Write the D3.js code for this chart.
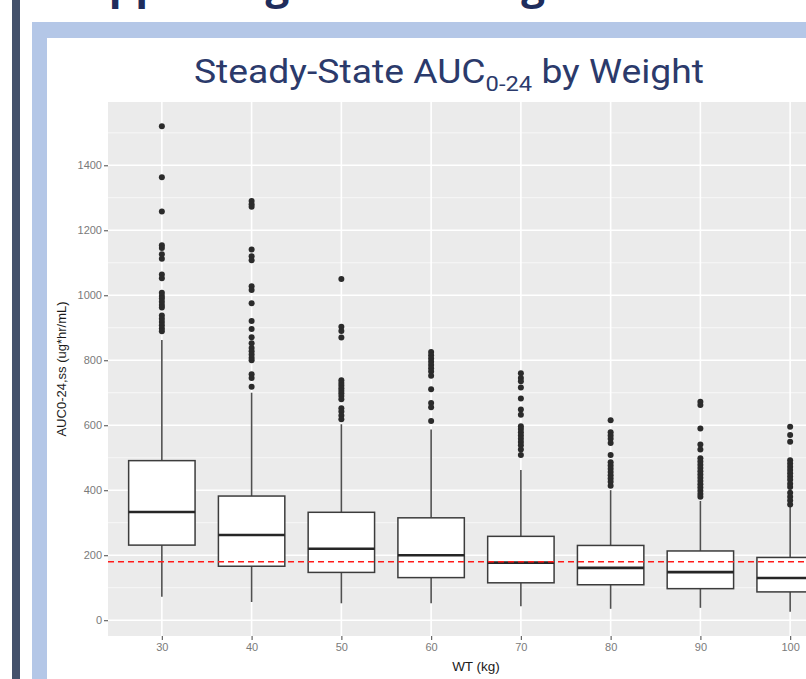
<!DOCTYPE html>
<html>
<head>
<meta charset="utf-8">
<script src="https://cdn.jsdelivr.net/npm/d3@7"></script>
<style>
  html, body { margin: 0; padding: 0; background: #fff; overflow: hidden; }
  svg { display: block; }
</style>
</head>
<body>
<svg id="chart" width="806" height="679"></svg>
<script>
// Boxplot summaries, one entry per weight group.
var weights = ["30", "40", "50", "60", "70", "80", "90", "100"];
var q1 = [231, 166, 147, 131, 115, 109, 97, 87];
var medians = [333, 262, 220, 200, 177, 161, 148, 130];
var q3 = [491, 382, 332, 315, 258, 230, 213, 193];
var whiskerLow = [72, 56, 52, 52, 43, 35, 38, 26];
var whiskerHigh = [862, 700, 603, 587, 462, 400, 367, 349];
var outliers = [
  [1520, 1363, 1258, 1154, 1145, 1126, 1112, 1064, 1052, 1008, 998, 990, 980, 970, 962, 938, 928, 918, 908, 898, 889],
  [1290, 1280, 1272, 1141, 1120, 1108, 1028, 1016, 975, 921, 896, 871, 852, 838, 828, 818, 808, 800, 757, 745, 718],
  [1050, 903, 890, 870, 738, 730, 722, 714, 706, 698, 690, 680, 652, 642, 630, 618],
  [825, 815, 805, 795, 785, 775, 765, 752, 711, 668, 655, 613],
  [760, 745, 735, 716, 682, 648, 632, 597, 588, 578, 568, 558, 548, 538, 525, 508],
  [615, 578, 568, 558, 545, 508, 486, 476, 466, 456, 446, 436, 426, 414],
  [672, 662, 590, 541, 525, 498, 488, 478, 468, 458, 448, 438, 428, 418, 408, 398, 388, 380],
  [595, 570, 549, 492, 482, 472, 462, 452, 442, 432, 420, 410, 392, 380, 368, 356]
];
var yTicks = [0, 200, 400, 600, 800, 1000, 1200, 1400];
var yMinor = [100, 300, 500, 700, 900, 1100, 1300, 1500];
var refLine = 180;

var svg = d3.select("#chart");

// slide decoration: dark side rule, light blue frame, cut-off heading
svg.append("rect").attr("x", 12).attr("y", 0).attr("width", 8).attr("height", 679).attr("fill", "#44516b");
svg.append("rect").attr("x", 32).attr("y", 22).attr("width", 780).attr("height", 670).attr("fill", "#b4c7e7");
svg.append("rect").attr("x", 47).attr("y", 38).attr("width", 770).attr("height", 650).attr("fill", "#fff");
svg.append("text")
    .attr("x", 58).attr("y", -1)
    .attr("fill", "#1f2d5c")
    .style("font", "bold 42px 'Open Sans', sans-serif")
    .text("Supporting Dose Changes");

// chart title with subscript
var title = svg.append("text")
    .attr("transform", "translate(449,83) scale(1.13,1)")
    .attr("text-anchor", "middle")
    .attr("fill", "#2b3a6b")
    .style("font-family", "Roboto, sans-serif")
    .style("font-size", "33px");
title.append("tspan").text("Steady-State AUC");
title.append("tspan").attr("dy", 8).style("font-size", "21px").text("0-24");
title.append("tspan").attr("dy", -8).text(" by Weight");

var panel = {left: 108, right: 844, top: 102, bottom: 636};

var x = d3.scalePoint()
    .domain(weights)
    .range([panel.left, panel.right])
    .padding(0.6);

var lo = d3.min(whiskerLow), hi = d3.max(outliers.map(function(o) { return d3.max(o); }));
var pad = (hi - lo) * 0.05;
var y = d3.scaleLinear()
    .domain([lo - pad, hi + pad])
    .range([panel.bottom, panel.top]);

var g = svg.append("g");

g.append("rect")
    .attr("x", panel.left).attr("y", panel.top)
    .attr("width", panel.right - panel.left).attr("height", panel.bottom - panel.top)
    .attr("fill", "#ebebeb");

g.selectAll(".minor").data(yMinor).enter().append("line")
    .attr("x1", panel.left).attr("x2", panel.right)
    .attr("y1", function(d) { return y(d); }).attr("y2", function(d) { return y(d); })
    .attr("stroke", "#f8f8f8").attr("stroke-width", 0.9);

g.selectAll(".hmajor").data(yTicks).enter().append("line")
    .attr("x1", panel.left).attr("x2", panel.right)
    .attr("y1", function(d) { return y(d); }).attr("y2", function(d) { return y(d); })
    .attr("stroke", "#fff").attr("stroke-width", 1.6);

g.selectAll(".vmajor").data(weights).enter().append("line")
    .attr("x1", function(d) { return x(d); }).attr("x2", function(d) { return x(d); })
    .attr("y1", panel.top).attr("y2", panel.bottom)
    .attr("stroke", "#fff").attr("stroke-width", 1.6);

var boxW = x.step() * 0.74;

var boxes = g.selectAll(".box")
  .data(weights)
  .enter().append("g")
    .attr("class", "box");

boxes.append("line")
    .attr("x1", function(d) { return x(d); }).attr("x2", function(d) { return x(d); })
    .attr("y1", function(d, i) { return y(whiskerHigh[i]); })
    .attr("y2", function(d, i) { return y(q3[i]); })
    .attr("stroke", "#505050").attr("stroke-width", 1.6);

boxes.append("line")
    .attr("x1", function(d) { return x(d); }).attr("x2", function(d) { return x(d); })
    .attr("y1", function(d, i) { return y(q1[i]); })
    .attr("y2", function(d, i) { return y(whiskerLow[i]); })
    .attr("stroke", "#505050").attr("stroke-width", 1.6);

boxes.append("rect")
    .attr("x", function(d) { return x(d) - boxW / 2; })
    .attr("width", boxW)
    .attr("y", function(d, i) { return y(q3[i]); })
    .attr("height", function(d, i) { return y(q1[i]) - y(q3[i]); })
    .attr("fill", "#fff").attr("stroke", "#3c3c3c").attr("stroke-width", 1.5);

boxes.append("line")
    .attr("x1", function(d) { return x(d) - boxW / 2; })
    .attr("x2", function(d) { return x(d) + boxW / 2; })
    .attr("y1", function(d, i) { return y(medians[i]); })
    .attr("y2", function(d, i) { return y(medians[i]); })
    .attr("stroke", "#262626").attr("stroke-width", 2.6);

boxes.selectAll("circle")
  .data(function(d, i) { return outliers[i].map(function(v) { return {w: d, v: v}; }); })
  .enter().append("circle")
    .attr("cx", function(d) { return x(d.w); })
    .attr("cy", function(d) { return y(d.v); })
    .attr("r", 3)
    .attr("fill", "#2b2b2b");

g.append("line")
    .attr("x1", panel.left).attr("x2", panel.right)
    .attr("y1", y(refLine)).attr("y2", y(refLine))
    .attr("stroke", "#ff1a1a").attr("stroke-width", 1.5)
    .attr("stroke-dasharray", "6,4");

// axes
var yAxis = svg.append("g")
    .attr("transform", "translate(" + panel.left + ",0)")
    .call(d3.axisLeft(y).tickValues(yTicks).tickFormat(d3.format("d")).tickSize(4).tickPadding(2));
var xAxis = svg.append("g")
    .attr("transform", "translate(0," + panel.bottom + ")")
    .call(d3.axisBottom(x).tickSize(4).tickPadding(3));

[yAxis, xAxis].forEach(function(a) {
  a.select(".domain").remove();
  a.selectAll(".tick line").attr("stroke", "#666").attr("stroke-width", 1.2);
  a.selectAll(".tick text")
      .attr("fill", "#7a7a7a")
      .style("font", "11px 'Liberation Sans', Arial, sans-serif");
});

svg.append("text")
    .attr("x", (panel.left + panel.right) / 2)
    .attr("y", 671)
    .attr("text-anchor", "middle")
    .attr("fill", "#1a1a1a")
    .style("font", "13.5px 'Liberation Sans', Arial, sans-serif")
    .text("WT (kg)");

svg.append("text")
    .attr("transform", "translate(66," + (panel.top + panel.bottom) / 2 + ") rotate(-90)")
    .attr("text-anchor", "middle")
    .attr("fill", "#1a1a1a")
    .style("font", "13px 'Liberation Sans', Arial, sans-serif")
    .text("AUC0-24,ss (ug*hr/mL)");
</script>
</body>
</html>
